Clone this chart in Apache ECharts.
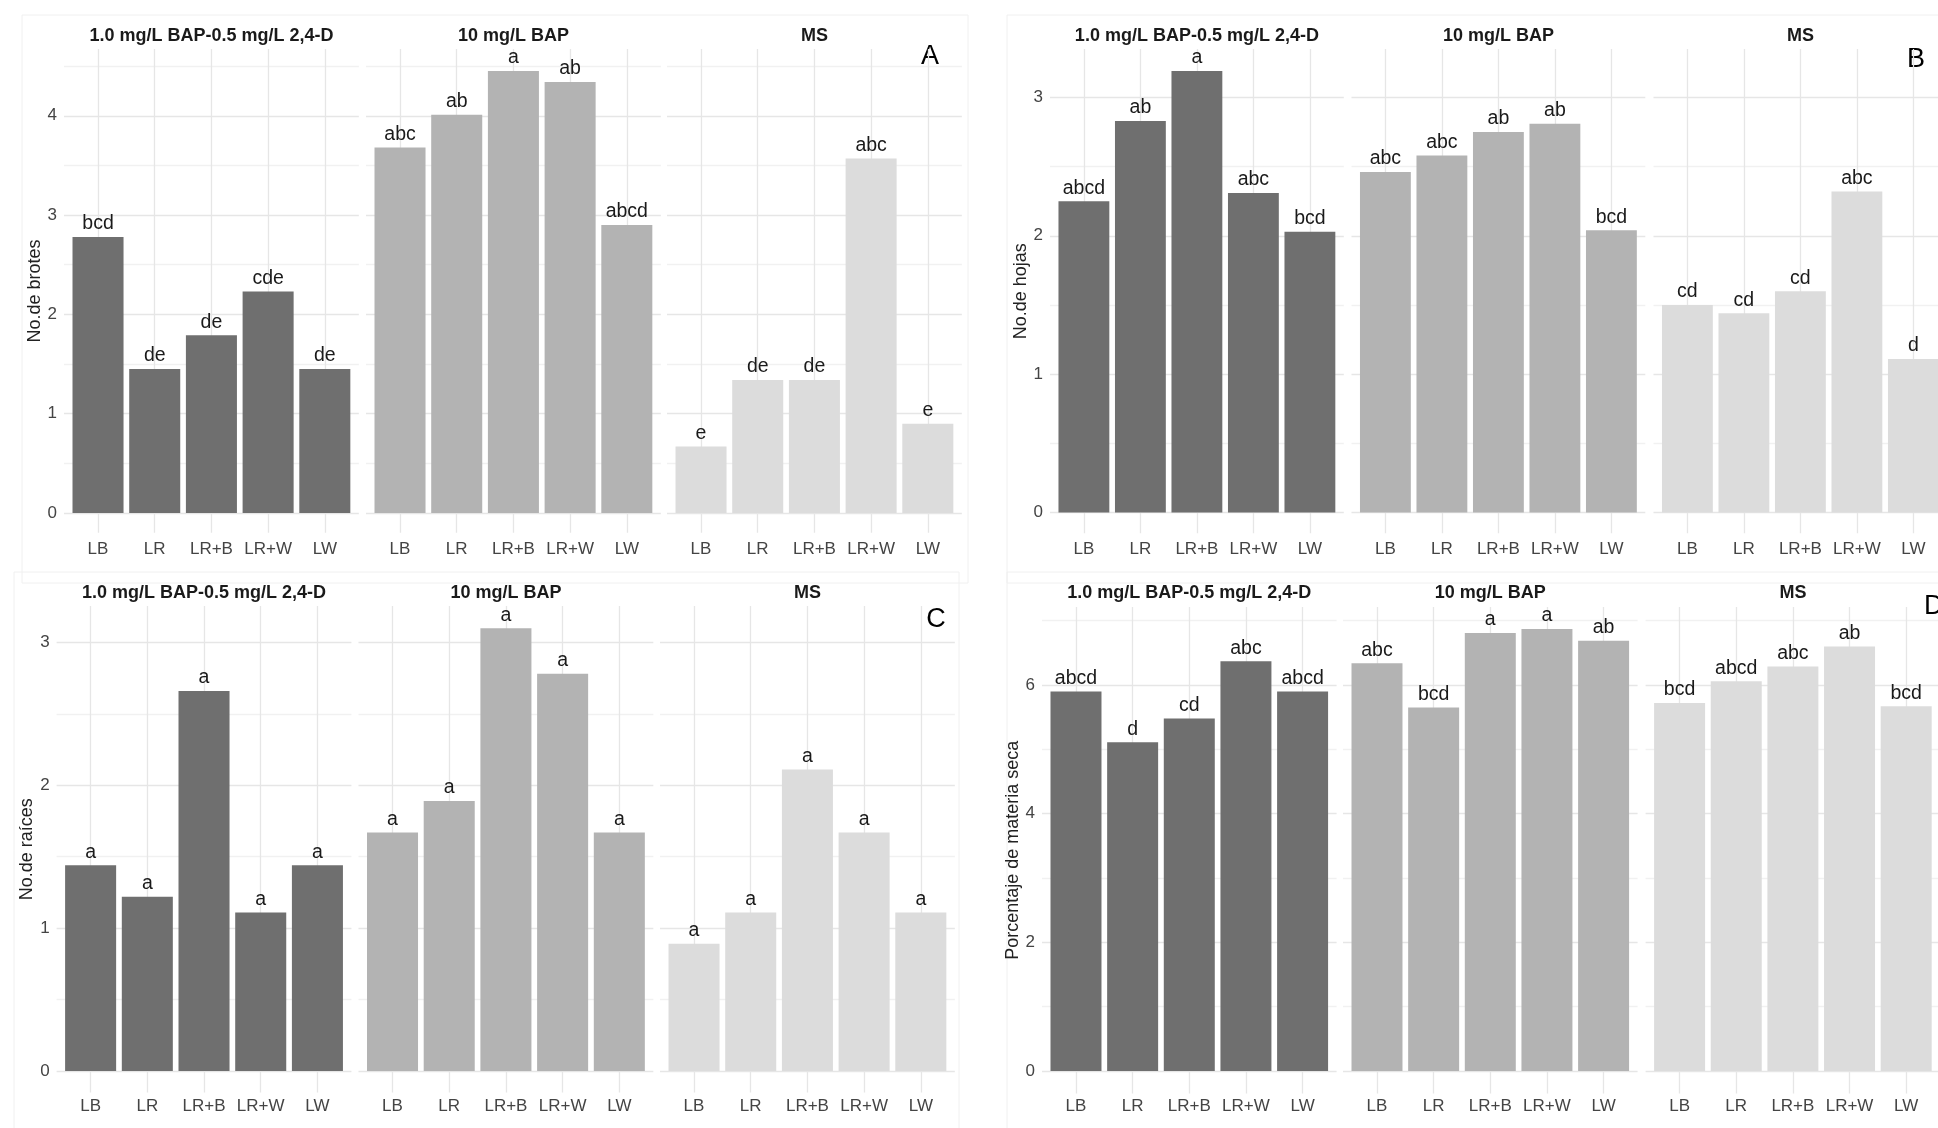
<!DOCTYPE html>
<html>
<head>
<meta charset="utf-8">
<script src="https://cdn.jsdelivr.net/npm/echarts@6/dist/echarts.min.js"></script>
<style>
html,body{margin:0;padding:0;background:#fff;overflow:hidden;}
#c{width:1938px;height:1128px;}
</style>
</head>
<body>
<div id="c"></div>
<script>
// ---------- DATA ----------
const categories = ['LB', 'LR', 'LR+B', 'LR+W', 'LW'];
const facetNames = ['1.0 mg/L BAP-0.5 mg/L 2,4-D', '10 mg/L BAP', 'MS'];

// A: No.de brotes
const brotes_BAP24D = [2.78, 1.45, 1.79, 2.23, 1.45];
const brotes_BAP10  = [3.68, 4.01, 4.45, 4.34, 2.90];
const brotes_MS     = [0.67, 1.34, 1.34, 3.57, 0.90];
const brotes_BAP24D_letters = ['bcd', 'de', 'de', 'cde', 'de'];
const brotes_BAP10_letters  = ['abc', 'ab', 'a', 'ab', 'abcd'];
const brotes_MS_letters     = ['e', 'de', 'de', 'abc', 'e'];

// B: No.de hojas
const hojas_BAP24D = [2.25, 2.83, 3.19, 2.31, 2.03];
const hojas_BAP10  = [2.46, 2.58, 2.75, 2.81, 2.04];
const hojas_MS     = [1.50, 1.44, 1.60, 2.32, 1.11];
const hojas_BAP24D_letters = ['abcd', 'ab', 'a', 'abc', 'bcd'];
const hojas_BAP10_letters  = ['abc', 'abc', 'ab', 'ab', 'bcd'];
const hojas_MS_letters     = ['cd', 'cd', 'cd', 'abc', 'd'];

// C: No.de raíces
const raices_BAP24D = [1.44, 1.22, 2.66, 1.11, 1.44];
const raices_BAP10  = [1.67, 1.89, 3.10, 2.78, 1.67];
const raices_MS     = [0.89, 1.11, 2.11, 1.67, 1.11];
const raices_BAP24D_letters = ['a', 'a', 'a', 'a', 'a'];
const raices_BAP10_letters  = ['a', 'a', 'a', 'a', 'a'];
const raices_MS_letters     = ['a', 'a', 'a', 'a', 'a'];

// D: Porcentaje de materia seca
const seca_BAP24D = [5.90, 5.11, 5.48, 6.37, 5.90];
const seca_BAP10  = [6.34, 5.65, 6.81, 6.87, 6.69];
const seca_MS     = [5.72, 6.06, 6.29, 6.60, 5.67];
const seca_BAP24D_letters = ['abcd', 'd', 'cd', 'abc', 'abcd'];
const seca_BAP10_letters  = ['abc', 'bcd', 'a', 'a', 'ab'];
const seca_MS_letters     = ['bcd', 'abcd', 'abc', 'ab', 'bcd'];

const panels = [
  { key: 'A', yTitle: 'No.de brotes', majorStep: 1,
    values: [brotes_BAP24D, brotes_BAP10, brotes_MS],
    letters: [brotes_BAP24D_letters, brotes_BAP10_letters, brotes_MS_letters] },
  { key: 'B', yTitle: 'No.de hojas', majorStep: 1,
    values: [hojas_BAP24D, hojas_BAP10, hojas_MS],
    letters: [hojas_BAP24D_letters, hojas_BAP10_letters, hojas_MS_letters] },
  { key: 'C', yTitle: 'No.de raíces', majorStep: 1,
    values: [raices_BAP24D, raices_BAP10, raices_MS],
    letters: [raices_BAP24D_letters, raices_BAP10_letters, raices_MS_letters] },
  { key: 'D', yTitle: 'Porcentaje de materia seca', majorStep: 2,
    values: [seca_BAP24D, seca_BAP10, seca_MS],
    letters: [seca_BAP24D_letters, seca_BAP10_letters, seca_MS_letters] }
];

// ---------- LAYOUT / STYLE ----------
const FONT = '"Liberation Sans", Arial, Helvetica, sans-serif';
const facetColors = ['#6f6f6f', '#b3b3b3', '#dcdcdc'];
const layouts = {
  A: { facetLeft: [64, 366, 667], band: 56.7, top: 49, zero: 513, stripY: 36, xLabelY: 549,
       tag: { x: 930, y: 57, align: 'center' }, frame: [22, 15, 946, 568] },
  B: { facetLeft: [1050, 1351.5, 1653.5], band: 56.5, top: 49, zero: 512.6, stripY: 36, xLabelY: 549,
       tag: { x: 1916, y: 60, align: 'center' }, frame: [1007, 15, 960, 568] },
  C: { facetLeft: [56.6, 358.5, 660], band: 56.7, top: 606, zero: 1071, stripY: 593, xLabelY: 1106.5,
       tag: { x: 936, y: 620, align: 'center' }, frame: [14, 572, 945, 580] },
  D: { facetLeft: [1042, 1343, 1645.6], band: 56.65, top: 607, zero: 1071, stripY: 593, xLabelY: 1106.5,
       tag: { x: 1924, y: 607, align: 'left' }, frame: [1007, 572, 960, 580] }
};
const STEP = 0.05;
const MAJOR_COLOR = '#e6e6e6';
const MINOR_COLOR = '#f1f1f1';
const NONE = 'rgba(0,0,0,0)';

function isMult(v, s) { const r = v / s; return Math.abs(r - Math.round(r)) < 1e-6; }
function r2(v) { return Math.round(v * 100) / 100; }

const grids = [], xAxes = [], yAxes = [], series = [], graphics = [];

panels.forEach(p => {
  const L = layouts[p.key];
  const maxV = Math.max(...p.values.flat());
  const yMax = maxV * 1.05;
  const yMin = -r2(Math.round(maxV * 0.05 / STEP) * STEP);
  const unit = (L.zero - L.top) / yMax;
  const bottom = L.zero - yMin * unit;
  const height = bottom - L.top;
  const panelW = 5.2 * L.band;

  const nTicks = Math.ceil((yMax - yMin) / STEP) + 4;
  const lineColors = [];
  for (let k = 0; k < nTicks; k++) {
    const v = r2(yMin + k * STEP);
    if (v < -1e-9 || v > yMax) lineColors.push(NONE);
    else if (isMult(v, p.majorStep)) lineColors.push(MAJOR_COLOR);
    else if (isMult(v, p.majorStep / 2)) lineColors.push(MINOR_COLOR);
    else lineColors.push(NONE);
  }

  graphics.push({ type: 'rect', z: -10, silent: true,
    shape: { x: L.frame[0], y: L.frame[1], width: L.frame[2], height: L.frame[3] },
    style: { fill: 'none', stroke: '#f0f0f0', lineWidth: 1 } });

  for (let f = 0; f < 3; f++) {
    // background grid: horizontal grid lines over full panel width, y labels
    const gi = grids.length;
    grids.push({ left: L.facetLeft[f], top: L.top, width: panelW, height: height,
                 containLabel: false, outerBoundsMode: 'none' });
    xAxes.push({ type: 'value', gridIndex: gi, min: 0, max: 1, show: false });
    yAxes.push({
      type: 'value', gridIndex: gi, min: yMin, max: yMax, interval: STEP,
      axisLine: { show: false }, axisTick: { show: false },
      splitLine: { show: true, lineStyle: { color: lineColors, width: 1.3 } },
      axisLabel: {
        show: f === 0, margin: 7, fontSize: 17, color: '#444444', fontFamily: FONT,
        formatter: v => (v > -1e-9 && isMult(v, p.majorStep)) ? String(Math.round(v)) : ''
      },
      name: f === 0 ? p.yTitle : '', nameLocation: 'middle', nameRotate: 90, nameGap: 18,
      nameTextStyle: { fontSize: 18, color: '#222222', fontFamily: FONT }
    });

    // bar grid
    const bi = grids.length;
    grids.push({ left: L.facetLeft[f] + 0.1 * L.band, top: L.top, width: 5 * L.band, height: height,
                 containLabel: false, outerBoundsMode: 'none' });
    xAxes.push({
      type: 'category', gridIndex: bi, data: categories,
      axisLine: { show: false, onZero: false },
      axisTick: { show: true, inside: true, alignWithLabel: true, interval: 0, length: height,
                  lineStyle: { color: MAJOR_COLOR, width: 1.3 } },
      splitLine: { show: false },
      axisLabel: { interval: 0, margin: L.xLabelY - bottom - 8.5, fontSize: 17, color: '#444444', fontFamily: FONT }
    });
    yAxes.push({ type: 'value', gridIndex: bi, min: yMin, max: yMax, show: false });

    const lets = p.letters[f];
    series.push({
      type: 'bar', xAxisIndex: bi, yAxisIndex: bi, data: p.values[f],
      barWidth: '90%', silent: true,
      itemStyle: { color: facetColors[f] },
      label: { show: true, position: 'top', distance: 3, fontSize: 19.5, color: '#1a1a1a', fontFamily: FONT,
               formatter: prm => lets[prm.dataIndex] }
    });

    graphics.push({ type: 'text', silent: true,
      x: L.facetLeft[f] + panelW / 2, y: L.stripY,
      style: { text: facetNames[f], fontSize: 18, fontWeight: 'bold', fontFamily: FONT, fill: '#1a1a1a',
               align: 'center', verticalAlign: 'middle', textAlign: 'center', textVerticalAlign: 'middle' } });
  }

  graphics.push({ type: 'text', silent: true, x: L.tag.x, y: L.tag.y,
    style: { text: p.key, fontSize: 27, fontFamily: FONT, fill: '#000',
             align: L.tag.align, verticalAlign: 'middle', textAlign: L.tag.align, textVerticalAlign: 'middle' } });
});

const chart = echarts.init(document.getElementById('c'), null, { renderer: 'canvas' });
chart.setOption({
  backgroundColor: '#ffffff',
  animation: false,
  grid: grids,
  xAxis: xAxes,
  yAxis: yAxes,
  series: series,
  graphic: { elements: graphics }
});
</script>
</body>
</html>
